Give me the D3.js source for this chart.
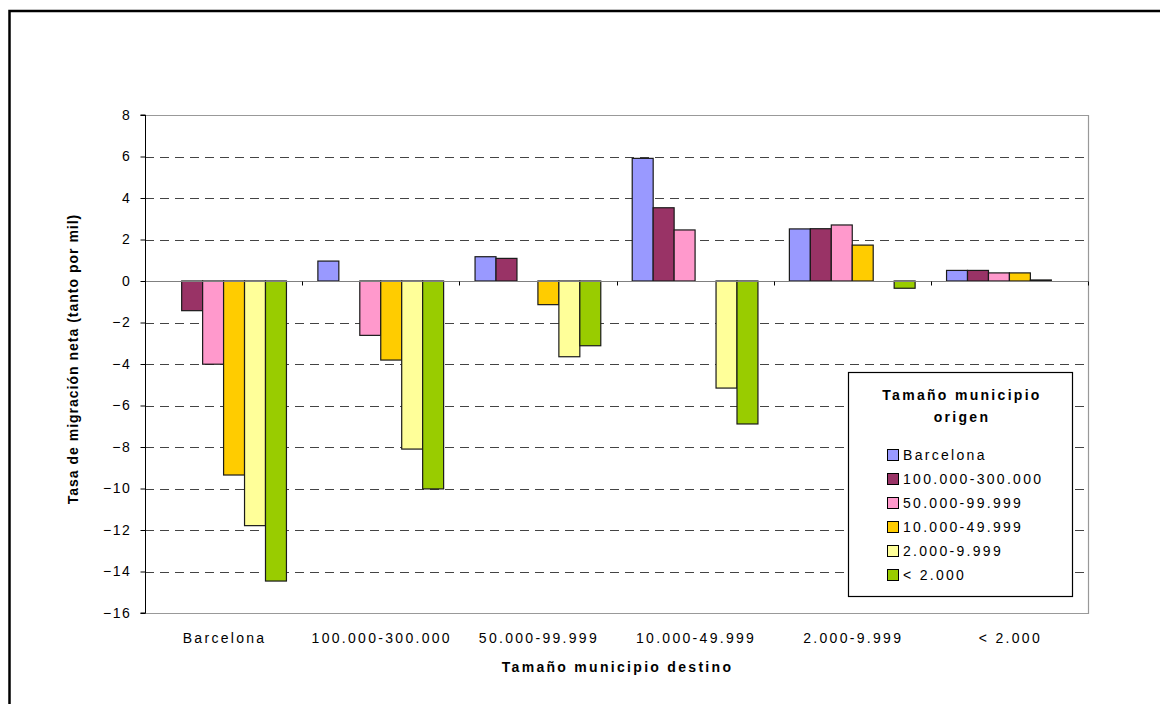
<!DOCTYPE html>
<html>
<head>
<meta charset="utf-8">
<script src="https://cdn.jsdelivr.net/npm/d3@7"></script>
<style>
  html, body { margin: 0; padding: 0; background: #fff; }
  svg text { font-family: Arial, "Liberation Sans", sans-serif; fill: #000; }
</style>
</head>
<body>
<svg id="chart" width="1160" height="704"></svg>
<script>
// Destination municipality size (x categories)
const destinos = ["Barcelona", "100.000-300.000", "50.000-99.999", "10.000-49.999", "2.000-9.999", "< 2.000"];
// Origin municipality size (series)
const origenes = ["Barcelona", "100.000-300.000", "50.000-99.999", "10.000-49.999", "2.000-9.999", "< 2.000"];
const colores = ["#9999FF", "#993366", "#FF99CC", "#FFCC00", "#FFFF99", "#99CC00"];

// Net migration rate (per thousand), one array per origin, ordered by destination
const serieBarcelona = [0, 0.96, 1.17, 5.91, 2.51, 0.51];
const serie100k      = [-1.43, 0, 1.09, 3.53, 2.52, 0.51];
const serie50k       = [-4.01, -2.62, 0, 2.46, 2.70, 0.39];
const serie10k       = [-9.35, -3.81, -1.14, 0, 1.73, 0.39];
const serie2k        = [-11.79, -8.10, -3.65, -5.16, 0, 0.05];
const serieMenos2k   = [-14.46, -10.02, -3.12, -6.89, -0.35, 0];
const series = [serieBarcelona, serie100k, serie50k, serie10k, serie2k, serieMenos2k];

const yTicks = [8, 6, 4, 2, 0, -2, -4, -6, -8, -10, -12, -14, -16];

const svg = d3.select("#chart");
const LS = "2.3px";

// Outer frame
svg.append("rect")
  .attr("x", 9.5).attr("y", 11).attr("width", 1200).attr("height", 800)
  .attr("fill", "none").attr("stroke", "#000").attr("stroke-width", 2.5);

const plot = { left: 145, right: 1088, top: 115, bottom: 613 };

const x0 = d3.scaleBand().domain(destinos).range([plot.left, plot.right]).padding(0);
const x1 = d3.scaleBand().domain(d3.range(origenes.length))
  .range([0, x0.bandwidth()]).paddingInner(0).paddingOuter(0.75);
const y = d3.scaleLinear().domain([-16, 8]).range([plot.bottom, plot.top]);

// Dashed gridlines
svg.append("g")
  .selectAll("line")
  .data(yTicks.filter(v => v !== 8 && v !== 0 && v !== -16))
  .join("line")
  .attr("x1", plot.left).attr("x2", plot.right)
  .attr("y1", d => Math.round(y(d)) + 0.5).attr("y2", d => Math.round(y(d)) + 0.5)
  .attr("stroke", "#444").attr("stroke-width", 1)
  .attr("stroke-dasharray", "9,6");

// Plot area border (top, right, bottom)
svg.append("path")
  .attr("d", `M${plot.left},${Math.round(y(8)) + 0.5}H${plot.right + 0.5}V${Math.round(y(-16)) + 0.5}H${plot.left}`)
  .attr("fill", "none").attr("stroke", "#999").attr("stroke-width", 1.2);

// Bars
const grupos = svg.append("g")
  .selectAll("g")
  .data(destinos)
  .join("g")
  .attr("transform", d => `translate(${x0(d)},0)`);

grupos.selectAll("rect")
  .data((d, i) => series.map((s, k) => ({ k, v: s[i] })).filter(e => e.v !== 0))
  .join("rect")
  .attr("x", e => x1(e.k))
  .attr("width", x1.bandwidth())
  .attr("y", e => y(Math.max(0, e.v)))
  .attr("height", e => Math.abs(y(e.v) - y(0)))
  .attr("fill", e => colores[e.k])
  .attr("stroke", "#1a1a1a").attr("stroke-width", 1.2);

// Zero line (category axis)
const y0 = Math.round(y(0)) + 0.5;
svg.append("line")
  .attr("x1", plot.left).attr("x2", plot.right)
  .attr("y1", y0).attr("y2", y0)
  .attr("stroke", "#808080").attr("stroke-width", 1.2);

// Category tick marks on the zero line
svg.append("g")
  .selectAll("line")
  .data(destinos.map(d => x0(d)).slice(1).concat([plot.right]))
  .join("line")
  .attr("x1", d => Math.round(d) + 0.5).attr("x2", d => Math.round(d) + 0.5)
  .attr("y1", y0).attr("y2", y0 + 4)
  .attr("stroke", "#000").attr("stroke-width", 1);

// Value axis
const yAxis = d3.axisLeft(y).tickValues(yTicks).tickSize(5).tickPadding(9)
  .tickFormat(d3.format("d"));
const gy = svg.append("g")
  .attr("transform", `translate(${plot.left + 0.5},0)`)
  .call(yAxis);
gy.select(".domain").attr("stroke", "#000").attr("d", `M-5,${y(8)}H0V${y(-16)}H-5`);
gy.selectAll(".tick line").attr("stroke", "#000");
gy.selectAll(".tick text")
  .attr("font-size", 14).style("letter-spacing", "1.6px")
  .attr("font-family", "Arial, 'Liberation Sans', sans-serif").attr("fill", "#000");

// Category labels below the plot
svg.append("g")
  .selectAll("text")
  .data(destinos)
  .join("text")
  .attr("x", d => x0(d) + x0.bandwidth() / 2 + 1)
  .attr("y", 643)
  .attr("text-anchor", "middle")
  .attr("font-size", 14)
  .style("letter-spacing", LS)
  .text(d => d);

// Axis titles
svg.append("text")
  .attr("x", (plot.left + plot.right) / 2 + 1).attr("y", 672)
  .attr("text-anchor", "middle").attr("font-size", 14).attr("font-weight", "bold")
  .style("letter-spacing", LS)
  .text("Tamaño municipio destino");

svg.append("text")
  .attr("transform", `translate(78,${(plot.top + plot.bottom) / 2 - 5}) rotate(-90)`)
  .attr("text-anchor", "middle").attr("font-size", 14).attr("font-weight", "bold")
  .style("letter-spacing", "1px")
  .text("Tasa de migración neta (tanto por mil)");

// Legend
const lg = svg.append("g");
lg.append("rect")
  .attr("x", 848.5).attr("y", 372.5).attr("width", 224).attr("height", 224)
  .attr("fill", "#fff").attr("stroke", "#000").attr("stroke-width", 1.2);
lg.append("text")
  .attr("x", 961).attr("y", 400)
  .attr("text-anchor", "middle").attr("font-size", 14).attr("font-weight", "bold")
  .style("letter-spacing", LS)
  .selectAll("tspan")
  .data(["Tamaño municipio", "origen"])
  .join("tspan")
  .attr("x", 962).attr("dy", (d, i) => i === 0 ? 0 : 21.5)
  .text(d => d);

const items = lg.selectAll("g.item")
  .data(origenes)
  .join("g")
  .attr("class", "item")
  .attr("transform", (d, i) => `translate(887,${455 + i * 24})`);
items.append("rect")
  .attr("x", 0.5).attr("y", -5.5).attr("width", 11).attr("height", 11)
  .attr("fill", (d, i) => colores[i]).attr("stroke", "#000").attr("stroke-width", 1);
items.append("text")
  .attr("x", 16).attr("y", 5)
  .attr("font-size", 14)
  .style("letter-spacing", LS)
  .text(d => d);
</script>
</body>
</html>
